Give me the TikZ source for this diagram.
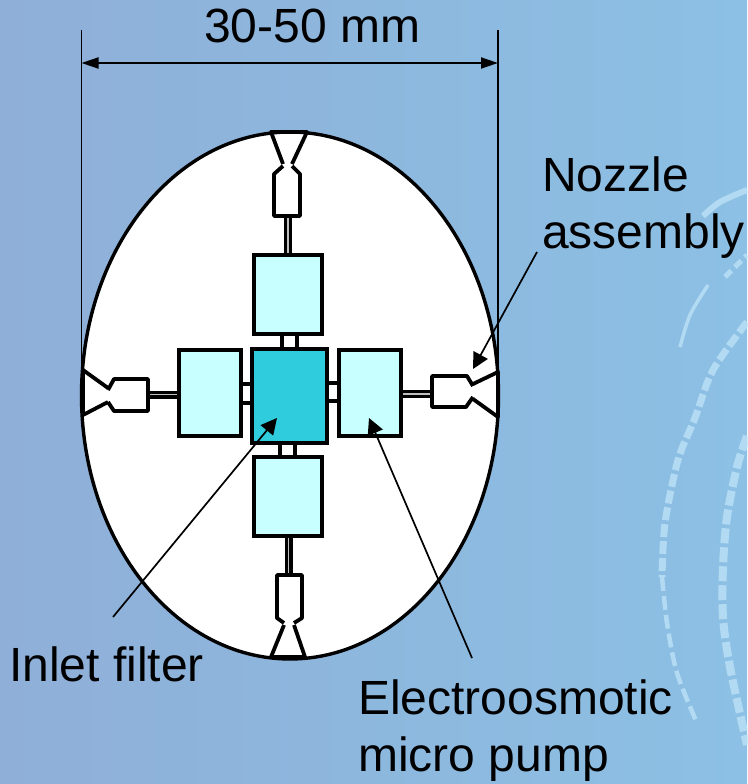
\documentclass[tikz,border=0pt]{standalone}
\usepackage{fontspec}
\setmainfont{Liberation Sans}
\usetikzlibrary{arrows.meta,calc}
\definecolor{bgL}{HTML}{8FAFD8}
\definecolor{bgM}{HTML}{8CB9DF}
\definecolor{bgR}{HTML}{8CC0E4}
\definecolor{pump}{HTML}{C8FFFF}
\definecolor{corec}{HTML}{2ECCDC}
\definecolor{spark}{HTML}{C4E6FA}
\tikzset{
  pumpbox/.style={draw=black,line width=4pt,fill=pump,inner sep=0pt,rectangle},
  corebox/.style={draw=black,line width=4.4pt,fill=corec,inner sep=0pt,rectangle},
  link/.style={draw=black,line width=3.6pt},
  stem/.style={line width=3.2pt,draw=black,double=black!25!white,double distance=1.6pt},
  nozzle/.style={draw=black,line width=3.8pt,line join=round,fill=white},
  leader/.style={draw=black,line width=1.7pt,-{Triangle[length=16pt,width=16pt]}},
  dim/.style={draw=black,line width=1.9pt,{Triangle[length=17pt,width=11pt]}-{Triangle[length=17pt,width=11pt]}},
  ext/.style={draw=black,line width=1.9pt},
  lab/.style={anchor=base west,inner sep=0pt,font=\fontsize{48}{55}\selectfont,text=black},
  sparkle/.style={draw=spark,line cap=butt,opacity=0.7}
}
\begin{document}
\begin{tikzpicture}[x=1pt,y=-1pt]
\useasboundingbox (0,0) rectangle (747,784);
\shade[left color=bgL,middle color=bgM,right color=bgR] (0,0) rectangle (747,784);
% background sparkle arcs
\draw[sparkle,line width=7pt,dash pattern=on 13pt off 4pt] plot[smooth] coordinates {(747,322)(713,370)(695,418)(678,460)(665,523)(662,577)};
\draw[sparkle,line width=4.5pt,dash pattern=on 14pt off 5pt] plot[smooth] coordinates {(662,577)(667,623)(677,673)(697,723)};
\draw[sparkle,line width=8pt,dash pattern=on 15pt off 4pt] plot[smooth] coordinates {(747,436)(737,467)(727,517)(723,567)(723,617)(730,667)(747,745)};
\draw[sparkle,line width=3.5pt] plot[smooth] coordinates {(680,347)(690,315)(708,285)};
\draw[sparkle,line width=5pt,dash pattern=on 9pt off 5pt] plot[smooth] coordinates {(725,277)(747,255)};
\draw[sparkle,line width=6pt] plot[smooth] coordinates {(703,216)(720,202)(747,190)};
% body
\draw[black,line width=3.4pt,fill=white] (290,395.5) ellipse [x radius=208.5,y radius=263.5];
% pump boxes
\node[pumpbox,minimum width=68pt,minimum height=79pt] (ptop) at (288,294.5) {};
\node[pumpbox,minimum width=68pt,minimum height=79pt] (pbot) at (288,496) {};
\node[pumpbox,minimum width=62pt,minimum height=86pt] (pleft) at (210,393) {};
\node[pumpbox,minimum width=62pt,minimum height=86pt] (pright) at (370,393) {};
\node[corebox,minimum width=75pt,minimum height=94pt] (core) at (289.5,396) {};
% links between pumps and core
\draw[link] ([xshift=-6pt]ptop.south) -- ([xshift=-6pt]ptop.south |- core.north);
\draw[link] ([xshift=9pt]ptop.south) -- ([xshift=9pt]ptop.south |- core.north);
\draw[link] ([xshift=-8pt]pbot.north) -- ([xshift=-8pt]pbot.north |- core.south);
\draw[link] ([xshift=7pt]pbot.north) -- ([xshift=7pt]pbot.north |- core.south);
\draw[link] ([yshift=-10pt]pleft.east) -- ([yshift=-10pt]pleft.east -| core.west);
\draw[link] ([yshift=9pt]pleft.east) -- ([yshift=9pt]pleft.east -| core.west);
\draw[link] ([yshift=-8pt]pright.west) -- ([yshift=-8pt]pright.west -| core.east);
\draw[link] ([yshift=10pt]pright.west) -- ([yshift=10pt]pright.west -| core.east);
% nozzles
\coordinate (ntop) at (287.5,216);
\coordinate (nbot) at (288.5,575);
\coordinate (nleft) at (148,394.5);
\coordinate (nright) at (432,394);
\draw[stem] (ptop.north |- ntop) -- (ptop.north);
\draw[stem] (pbot.south -| nbot) -- (nbot);
\draw[stem] (nleft) -- (nleft -| pleft.west);
\draw[stem] (nright -| pright.east) -- (nright);
% top nozzle
\draw[nozzle] (283,166) -- (274,174) -- (274,216) -- (300,216) -- (300,174) -- (292,166);
\draw[nozzle,fill=none] (283,164) -- (271,132) -- (307,132) -- (292,164);
% bottom nozzle
\draw[nozzle] (284,623) -- (277,618) -- (277,575) -- (302,575) -- (302,618) -- (294,623);
\draw[nozzle,fill=none] (284,625) -- (271,657) -- (305,657) -- (294,625);
% left nozzle
\draw[nozzle] (108,390) -- (114,379) -- (148,379) -- (148,411) -- (114,411) -- (108,402);
\draw[nozzle,fill=none] (108,388) -- (83,370) -- (83,415) -- (108,402);
% right nozzle
\draw[nozzle] (473,386) -- (467,376) -- (432,376) -- (432,407) -- (466,407) -- (473,397);
\draw[nozzle,fill=none] (473,384) -- (498,372) -- (498,417) -- (473,399);
% dimension
\coordinate (extLt) at (81.5,30);
\coordinate (extLb) at (81.5,385);
\coordinate (extRt) at (498,30);
\coordinate (extRb) at (498,385);
\coordinate (dimL) at (81.5,63);
\coordinate (dimR) at (498,63);
\draw[ext] (extLt) -- (extLb);
\draw[ext] (extRt) -- (extRb);
\draw[dim] (dimL) -- (dimR);
% labels
\node[lab] (ldim) at (204,43) {30-50 mm};
\node[lab] (lnoz1) at (542,191) {Nozzle};
\node[lab] (lnoz2) at (542,248) {assembly};
\node[lab] (linlet) at (9,681) {Inlet filter};
\node[lab] (leo1) at (358,714) {Electroosmotic};
\node[lab] (leo2) at (358,771) {micro pump};
% leaders
\coordinate (fromNoz) at (537,252);
\coordinate (toNoz) at (473,369);
\coordinate (fromInlet) at (113,617);
\coordinate (toInlet) at (277,418);
\coordinate (fromEo) at (472,658);
\coordinate (toEo) at (369,418);
\draw[leader] (fromNoz) -- (toNoz);
\draw[leader] (fromInlet) -- (toInlet);
\draw[leader] (fromEo) -- (toEo);
\end{tikzpicture}
\end{document}
